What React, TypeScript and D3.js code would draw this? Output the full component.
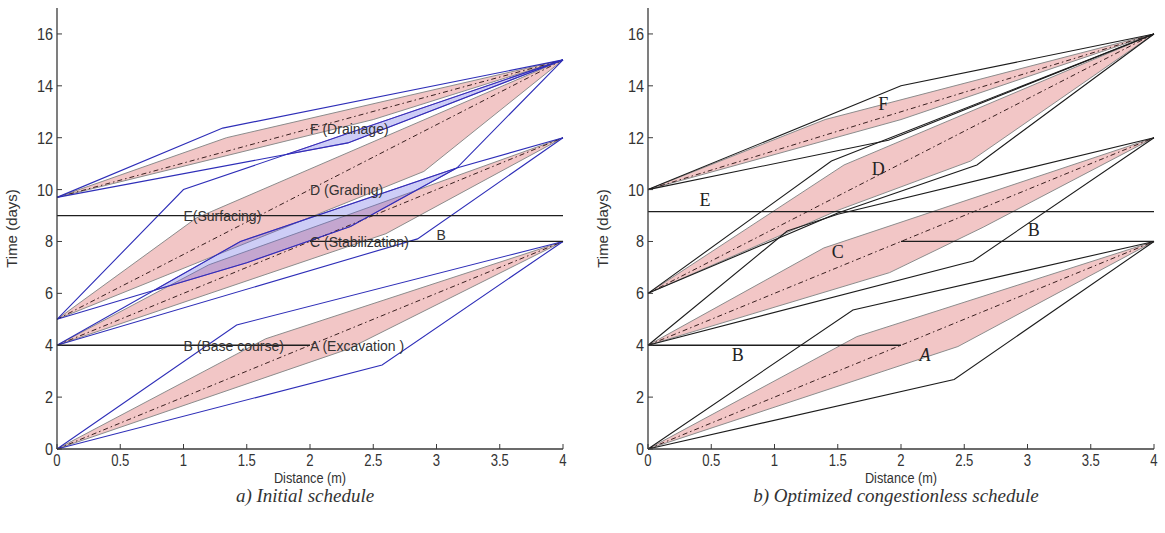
import React from "react";
import * as d3 from "d3";

type P = [number, number];

// ---------- axis ticks ----------
const xTicks = [0, 0.5, 1, 1.5, 2, 2.5, 3, 3.5, 4];
const yTicks = [0, 2, 4, 6, 8, 10, 12, 14, 16];

// ---------- a) initial schedule ----------
const leftStart = [0, 4, 5, 9.7];
const leftEnd = [8, 12, 15, 15];
const leftPinkUpper: P[][] = [[[1.65, 4.25]], [[1.2, 7.1]], [[1.1, 8.9]], [[1.34, 12.0]]];
const leftPinkLower: P[][] = [[[2.3, 3.85]], [[2.6, 8.3]], [[2.9, 10.7]], [[2.5, 12.7]]];
const leftOuterUpper: P[][] = [[[1.42, 4.78]], [[1.45, 8.0], [3.16, 10.83]], [[1.0, 10.0]], [[1.31, 12.37]]];
const leftOuterLower: P[][] = [[[2.57, 3.24]], [[2.85, 8.1]], [[1.5, 7.18], [2.32, 8.58], [3.16, 10.83]], [[2.3, 11.8]]];
const leftHLineY = [4, 8, 9];
const leftHLineX0 = [0, 2, 0];
const leftHLineX1 = [2, 4, 4];
const leftLabelText = ["F (Drainage)", "D (Grading)", "E(Surfacing)", "C (Stabilization)", "B", "B (Base course)", "A (Excavation )"];
const leftLabelX = [2, 2, 1, 2, 3, 1, 2];
const leftLabelY = [12.35, 10, 9, 8, 8.25, 4, 4];

// ---------- b) optimized congestionless schedule ----------
const rightStart = [0, 4, 6, 10];
const rightEnd = [8, 12, 16, 16];
const rightPinkUpper: P[][] = [[[1.65, 4.33]], [[1.39, 7.75]], [[1.55, 10.95]], [[1.4, 12.7]]];
const rightPinkLower: P[][] = [[[2.45, 3.95]], [[1.91, 6.8], [2.65, 8.55]], [[1.5, 9.2], [2.55, 11.1]], [[2.0, 12.7]]];
const rightOuterUpper: P[][] = [[[1.62, 5.36]], [[1.1, 8.4], [1.5, 9.05]], [[1.45, 11.1]], [[2.0, 14.0]]];
const rightOuterLower: P[][] = [[[2.42, 2.68]], [[2.57, 7.25]], [[1.5, 9.1], [2.6, 10.95]], [[1.9, 11.9]]];
const rightHLineY = [4, 8, 9.15];
const rightHLineX0 = [0, 2, 0];
const rightHLineX1 = [2, 4, 4];
const rightLabelText = ["F", "D", "E", "C", "B", "B", "A"];
const rightLabelX = [1.86, 1.82, 0.45, 1.5, 3.05, 0.71, 2.19];
const rightLabelY = [13.3, 10.8, 9.6, 7.6, 8.45, 3.65, 3.62];
const rightLabelItalic = [false, false, false, false, false, false, true];

const X0 = 0;
const X1 = 4;

function poly(start: number, end: number, kinks: P[]): P[] {
  return [[X0, start] as P, ...kinks, [X1, end] as P];
}

function interp(pts: P[], x: number): number {
  for (let i = 0; i < pts.length - 1; i++) {
    const [x0, y0] = pts[i];
    const [x1, y1] = pts[i + 1];
    if (x >= x0 && x <= x1) return y0 + ((x - x0) / (x1 - x0)) * (y1 - y0);
  }
  return pts[pts.length - 1][1];
}

type PanelProps = {
  x0px: number;
  starts: number[];
  ends: number[];
  pinkUpper: P[][];
  pinkLower: P[][];
  outerUpper: P[][];
  outerLower: P[][];
  hY: number[];
  hX0: number[];
  hX1: number[];
  labels: string[];
  labelX: number[];
  labelY: number[];
  labelItalic?: boolean[];
  serifLabels: boolean;
  outerColor: string;
  shade: boolean;
  title: string;
};

function Panel(p: PanelProps) {
  const x = d3.scaleLinear().domain([0, 4]).range([p.x0px, p.x0px + 506]);
  const y = d3.scaleLinear().domain([0, 17]).range([449, 8]);
  const line = d3
    .line<P>()
    .x((d) => x(d[0]))
    .y((d) => y(d[1]));

  const n = p.starts.length;
  const bands = d3.range(n).map((i) => {
    const up = poly(p.starts[i], p.ends[i], p.pinkUpper[i]);
    const lo = poly(p.starts[i], p.ends[i], p.pinkLower[i]);
    return [...up, ...lo.slice().reverse()] as P[];
  });

  // conflict shading: where envelope of activity i rises above envelope of i+1
  const samples = d3.range(0, 4.0001, 0.01);
  const shadeArea = d3
    .area<{ x: number; t: number; b: number }>()
    .defined((d) => d.t > d.b)
    .x((d) => x(d.x))
    .y0((d) => y(d.b))
    .y1((d) => y(d.t));
  const shades: string[] = [];
  if (p.shade) {
    for (let i = 0; i < n - 1; i++) {
      const top = poly(p.starts[i], p.ends[i], p.outerUpper[i]);
      const bot = poly(p.starts[i + 1], p.ends[i + 1], p.outerLower[i + 1]);
      const data = samples.map((sx) => ({ x: sx, t: interp(top, sx), b: interp(bot, sx) }));
      shades.push(shadeArea(data) || "");
    }
  }

  const axisColor = "#3a3a3a";
  const tickFont = "'Liberation Sans', Arial, sans-serif";

  return (
    <g>
      {bands.map((b, i) => (
        <path key={"b" + i} d={(line(b) || "") + "Z"} fill="#f2c6c6" stroke="#8c8c8c" strokeWidth={1} />
      ))}
      {shades.map((s, i) => (
        <path key={"s" + i} d={s} fill="rgba(100,100,228,0.32)" stroke="#7a3fbf" strokeWidth={0.8} />
      ))}
      {d3.range(n).map((i) => (
        <path
          key={"c" + i}
          d={line([[0, p.starts[i]], [4, p.ends[i]]]) || ""}
          fill="none"
          stroke="#3a2020"
          strokeWidth={1}
          strokeDasharray="5,3,1.5,3"
        />
      ))}
      {d3.range(n).map((i) => (
        <g key={"o" + i}>
          <path d={line(poly(p.starts[i], p.ends[i], p.outerUpper[i])) || ""} fill="none" stroke={p.outerColor} strokeWidth={1.1} />
          <path d={line(poly(p.starts[i], p.ends[i], p.outerLower[i])) || ""} fill="none" stroke={p.outerColor} strokeWidth={1.1} />
        </g>
      ))}
      {p.hY.map((hy, i) => (
        <line key={"h" + i} x1={x(p.hX0[i])} x2={x(p.hX1[i])} y1={y(hy)} y2={y(hy)} stroke="#1e1e1e" strokeWidth={1.3} />
      ))}
      {p.labels.map((t, i) =>
        p.serifLabels ? (
          <text
            key={"l" + i}
            x={x(p.labelX[i])}
            y={y(p.labelY[i])}
            dy="0.35em"
            textAnchor="middle"
            fontFamily="'Liberation Serif', 'Times New Roman', serif"
            fontStyle={p.labelItalic && p.labelItalic[i] ? "italic" : "normal"}
            fontSize={18}
            fill="#222"
          >
            {t}
          </text>
        ) : (
          <text
            key={"l" + i}
            x={x(p.labelX[i])}
            y={y(p.labelY[i])}
            dy="0.38em"
            textAnchor="start"
            fontFamily={tickFont}
            fontSize={14}
            fill="#333"
          >
            {t}
          </text>
        )
      )}
      <line x1={x(0)} x2={x(0)} y1={y(0)} y2={y(17)} stroke={axisColor} strokeWidth={1.3} />
      <line x1={x(0)} x2={x(4)} y1={y(0)} y2={y(0)} stroke={axisColor} strokeWidth={1.3} />
      {xTicks.map((t) => (
        <g key={"xt" + t}>
          <line x1={x(t)} x2={x(t)} y1={y(0)} y2={y(0) - 5} stroke={axisColor} strokeWidth={1} />
          <text
            transform={`translate(${x(t)},${y(0) + 17}) scale(0.82,1)`}
            textAnchor="middle"
            fontFamily={tickFont}
            fontSize={16}
            fill="#333"
          >
            {String(t)}
          </text>
        </g>
      ))}
      {yTicks.map((t) => (
        <g key={"yt" + t}>
          <line x1={x(0)} x2={x(0) + 5} y1={y(t)} y2={y(t)} stroke={axisColor} strokeWidth={1} />
          <text
            transform={`translate(${x(0) - 4},${y(t) + 6}) scale(0.85,1)`}
            textAnchor="end"
            fontFamily={tickFont}
            fontSize={17}
            fill="#333"
          >
            {String(t)}
          </text>
        </g>
      ))}
      <text
        transform={`translate(${x(2)},${y(0) + 34}) scale(0.85,1)`}
        textAnchor="middle"
        fontFamily={tickFont}
        fontSize={15}
        fill="#333"
      >
        Distance (m)
      </text>
      <text
        transform={`translate(${x(0) - 40},${y(8.5)}) rotate(-90)`}
        textAnchor="middle"
        fontFamily={tickFont}
        fontSize={15}
        fill="#333"
      >
        Time (days)
      </text>
      <text
        x={x(2) - 5}
        y={502}
        textAnchor="middle"
        fontFamily="'Liberation Serif', 'Times New Roman', serif"
        fontStyle="italic"
        fontSize={19}
        fill="#333"
      >
        {p.title}
      </text>
    </g>
  );
}

export default function App() {
  return (
    <svg
      width={1165}
      height={533}
      viewBox="0 0 1165 533"
      style={{ position: "absolute", left: 0, top: 0, background: "#fff" }}
    >
      <rect x={0} y={0} width={1165} height={533} fill="#fff" />
      <Panel
        x0px={57}
        starts={leftStart}
        ends={leftEnd}
        pinkUpper={leftPinkUpper}
        pinkLower={leftPinkLower}
        outerUpper={leftOuterUpper}
        outerLower={leftOuterLower}
        hY={leftHLineY}
        hX0={leftHLineX0}
        hX1={leftHLineX1}
        labels={leftLabelText}
        labelX={leftLabelX}
        labelY={leftLabelY}
        serifLabels={false}
        outerColor="#2e2eb8"
        shade={true}
        title="a) Initial schedule"
      />
      <Panel
        x0px={648}
        starts={rightStart}
        ends={rightEnd}
        pinkUpper={rightPinkUpper}
        pinkLower={rightPinkLower}
        outerUpper={rightOuterUpper}
        outerLower={rightOuterLower}
        hY={rightHLineY}
        hX0={rightHLineX0}
        hX1={rightHLineX1}
        labels={rightLabelText}
        labelX={rightLabelX}
        labelY={rightLabelY}
        labelItalic={rightLabelItalic}
        serifLabels={true}
        outerColor="#1c1c1c"
        shade={false}
        title="b) Optimized congestionless schedule"
      />
    </svg>
  );
}
